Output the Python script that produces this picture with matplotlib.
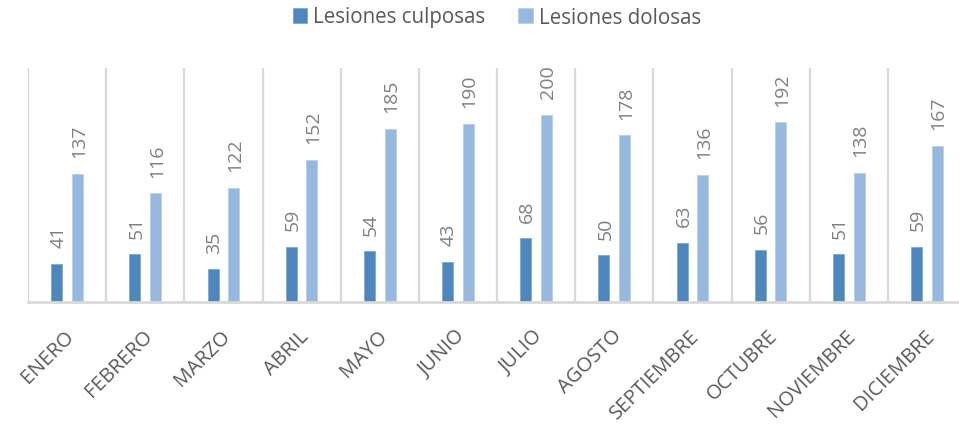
import matplotlib
matplotlib.use("Agg")
import matplotlib.pyplot as plt
import matplotlib.transforms as mtransforms
import numpy as np

months = ["ENERO", "FEBRERO", "MARZO", "ABRIL", "MAYO", "JUNIO", "JULIO",
          "AGOSTO", "SEPTIEMBRE", "OCTUBRE", "NOVIEMBRE", "DICIEMBRE"]
culposas = [41, 51, 35, 59, 54, 43, 68, 50, 63, 56, 51, 59]
dolosas = [137, 116, 122, 152, 185, 190, 200, 178, 136, 192, 138, 167]
series_names = ["Lesiones culposas", "Lesiones dolosas"]

plt.rcParams['font.family'] = ['Open Sans', 'DejaVu Sans']

W, H = 959, 431
fig = plt.figure(figsize=(W / 100, H / 100), dpi=100)
ax = fig.add_axes([28 / W, (H - 303) / H, 938 / W, 234 / H])

x = np.arange(len(months))
off = 0.132
bw = 0.14
c1, c2 = "#4E87BD", "#97B9E0"
b1 = ax.bar(x - off, culposas, bw, color=c1, edgecolor="#7FA8D2", linewidth=0.6,
            label=series_names[0], zorder=3)
b2 = ax.bar(x + off, dolosas, bw, color=c2, edgecolor="#B8D0EA", linewidth=0.6,
            label=series_names[1], zorder=3)

for bars in (b1, b2):
    for r in bars:
        ax.annotate(f"{int(r.get_height())}",
                    (r.get_x() + r.get_width() / 2, r.get_height()),
                    xytext=(1, 12), textcoords="offset points",
                    rotation=90, ha="center", va="bottom",
                    fontsize=14, color="#7F7F7F")

ax.set_xlim(-0.5, len(months) - 0.5)
ax.set_ylim(0, 250)
ax.set_yticks([])
ax.set_xticks(x)
ax.set_xticks(np.arange(-0.5, len(months), 1.0), minor=True)
ax.grid(True, which="minor", axis="x", color="#D9D9D9", linewidth=1.6, zorder=0)
ax.tick_params(axis="x", which="both", length=0, pad=17)
ax.set_xticklabels(months, rotation=45, ha="right", va="top",
                   rotation_mode="anchor", fontsize=14.5, color="#595959")
shift = mtransforms.ScaledTranslation(-3 / 100, 0, fig.dpi_scale_trans)
for lab in ax.get_xticklabels():
    lab.set_transform(lab.get_transform() + shift)

for s in ["top", "right", "left"]:
    ax.spines[s].set_visible(False)
ax.spines["bottom"].set_color("#D9D9D9")
ax.spines["bottom"].set_linewidth(2)
ax.spines["bottom"].set_zorder(4)

leg = fig.legend(handles=[b1, b2], labels=series_names, loc="center",
                 bbox_to_anchor=(497 / W, 1 - 18 / H), ncol=2, frameon=False,
                 fontsize=14.8, handlelength=0.7, handleheight=0.7,
                 handletextpad=0.3, columnspacing=1.6, labelcolor="#595959")

fig.savefig("out.png", dpi=100)
